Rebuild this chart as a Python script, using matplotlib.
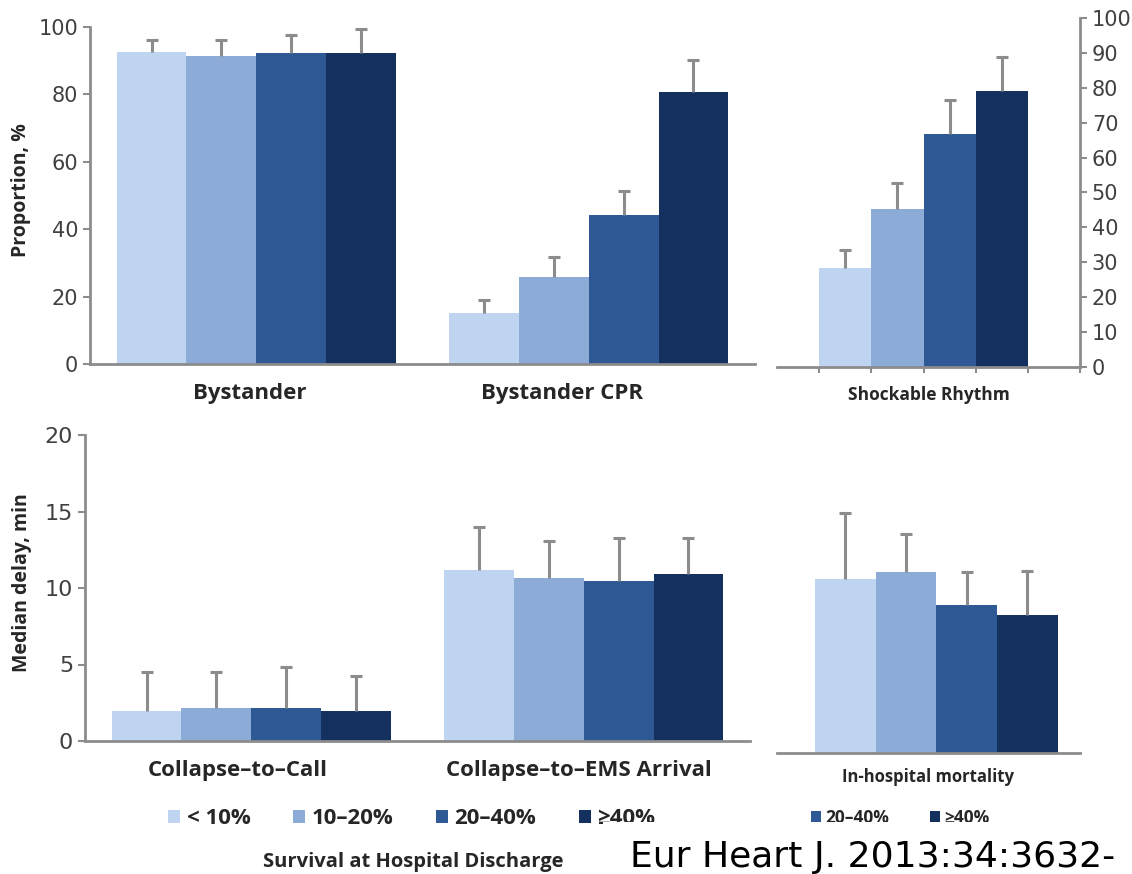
import numpy as np
import matplotlib
matplotlib.use("Agg")
import matplotlib.pyplot as plt
from matplotlib.patches import Patch, Rectangle

# Survival-at-discharge groups and their bar colours
survival_groups = ["< 10%", "10–20%", "20–40%", "≥40%"]
colors = ["#bed4f0", "#8dabd7", "#2e5995", "#14305f"]

# Proportions (%), bar value and upper end of the error bar
top_categories = ["Bystander", "Bystander CPR"]
bystander = [92.6, 91.4, 92.3, 92.3]
bystander_hi = [96.1, 96.0, 97.6, 99.4]
bystander_cpr = [15.1, 25.8, 44.2, 80.7]
bystander_cpr_hi = [19.0, 31.8, 51.4, 90.2]
shockable = [28.4, 45.4, 66.7, 79.0]
shockable_hi = [33.6, 52.6, 76.4, 88.8]

# Median delays (min)
delay_categories = ["Collapse–to–Call", "Collapse–to–EMS Arrival"]
collapse_call = [1.96, 2.15, 2.15, 1.98]
collapse_call_hi = [4.5, 4.5, 4.85, 4.25]
collapse_ems = [11.2, 10.65, 10.46, 10.9]
collapse_ems_hi = [13.97, 13.07, 13.27, 13.27]

# In-hospital mortality (unscaled panel)
mortality = [11.4, 11.8, 9.7, 9.0]
mortality_hi = [15.7, 14.3, 11.8, 11.9]

GREY = "#8c8c8c"
TXT = "#262626"
BOLD = dict(family=["Open Sans", "DejaVu Sans"], weight="bold", color=TXT)
TICKFONT = "DejaVu Sans"

W, H = 1132, 874
fig = plt.figure(figsize=(W / 100, H / 100), dpi=100)


def box(x0, x1, y_base, y_top):
    # pixel box -> figure fraction
    return [x0 / W, 1 - y_base / H, (x1 - x0) / W, (y_base - y_top) / H]


def draw_group(ax, center, width, vals, hi):
    offs = (np.arange(4) - 1.5) * width
    xs = center + offs
    ax.bar(xs, vals, width=width, color=colors, linewidth=0, zorder=2)
    err = np.array(hi) - np.array(vals)
    _, caps, _ = ax.errorbar(xs, vals, yerr=[np.zeros(4), err], fmt="none",
                             ecolor=GREY, elinewidth=2.2, capsize=4,
                             capthick=2.2, zorder=3)
    caps[0].set_visible(False)  # only the upper whisker gets a cap
    return xs


def style(ax, left=True, right=False):
    for s in ["top", "right", "left", "bottom"]:
        ax.spines[s].set_visible(False)
    ax.spines["bottom"].set_visible(True)
    ax.spines["bottom"].set_color(GREY)
    ax.spines["bottom"].set_linewidth(2)
    for s, on in (("left", left), ("right", right)):
        if on:
            ax.spines[s].set_visible(True)
            ax.spines[s].set_color(GREY)
            ax.spines[s].set_linewidth(2)
    ax.tick_params(axis="y", colors=GREY, length=5, width=1.5,
                   labelcolor="#404040", labelsize=15, left=left, right=right,
                   labelleft=left, labelright=right)
    for lab in ax.get_yticklabels():
        lab.set_family(TICKFONT)
    ax.set_facecolor("none")


# Top left: bystander and bystander CPR
ax1 = fig.add_axes(box(90, 755, 364, 27))
draw_group(ax1, 0, 0.21, bystander, bystander_hi)
draw_group(ax1, 1, 0.21, bystander_cpr, bystander_cpr_hi)
ax1.set_xlim(-0.5, 1.5)
ax1.set_ylim(0, 100)
ax1.set_yticks(range(0, 101, 20))
style(ax1)
ax1.set_xticks([-0.02, 0.92])
ax1.set_xticklabels(top_categories, fontsize=16, **BOLD)
ax1.tick_params(axis="x", length=0, pad=14)
ax1.set_ylabel("Proportion, %", fontsize=14, **BOLD)
ax1.yaxis.set_label_coords(-0.088, 0.516)

# Top right: shockable rhythm
ax2 = fig.add_axes(box(777, 1080, 367, 18))
xs = draw_group(ax2, 0.4835, 0.172, shockable, shockable_hi)
ax2.set_xlim(0, 1)
ax2.set_ylim(0, 100)
ax2.set_yticks(range(0, 101, 10))
style(ax2, left=False, right=True)
edges = list(xs - 0.086) + [xs[-1] + 0.086, 1.0]
ax2.set_xticks(edges)
ax2.set_xticklabels([])
ax2.tick_params(axis="x", colors=GREY, length=4, width=1.5, direction="out")
ax2.set_xlabel("Shockable Rhythm", fontsize=12.5, labelpad=6, **BOLD)

# Bottom left: delays
ax3 = fig.add_axes(box(85, 750, 741, 435))
draw_group(ax3, 0, 0.21, collapse_call, collapse_call_hi)
draw_group(ax3, 1, 0.21, collapse_ems, collapse_ems_hi)
ax3.set_xlim(-0.5, 1.5)
ax3.set_ylim(0, 20)
ax3.set_yticks(range(0, 21, 5))
style(ax3)
ax3.tick_params(axis="y", labelsize=16)
ax3.set_xticks([-0.04, 0.985])
ax3.set_xticklabels(delay_categories, fontsize=16, **BOLD)
ax3.tick_params(axis="x", length=0, pad=14)
ax3.set_ylabel("Median delay, min", fontsize=14, **BOLD)
ax3.yaxis.set_label_coords(-0.08, 0.516)

# Bottom right: in-hospital mortality
ax4 = fig.add_axes(box(777, 1080, 753, 447))
draw_group(ax4, 0.526, 0.2, mortality, mortality_hi)
ax4.set_xlim(0, 1)
ax4.set_ylim(0, 20)
style(ax4, left=False)
ax4.set_yticks([])
ax4.set_xticks([0.50])
ax4.set_xticklabels(["In-hospital mortality"], fontsize=12, **BOLD)
ax4.tick_params(axis="x", length=0, pad=11)

# Legends
leg_font = dict(family=["Open Sans", "DejaVu Sans"], weight="bold", size=16)
handles = [Patch(facecolor=c, edgecolor="none") for c in colors]
leg = fig.legend(handles, survival_groups, loc="center left",
                 bbox_to_anchor=(168 / W, 1 - 819 / H), ncol=4, frameon=False,
                 prop=leg_font, handlelength=0.55, handleheight=0.55,
                 handletextpad=0.3, columnspacing=1.9, borderpad=0,
                 borderaxespad=0)
for t in leg.get_texts():
    t.set_color(TXT)

small_font = dict(family=["Open Sans", "DejaVu Sans"], weight="bold", size=12.5)
leg2 = fig.legend(handles[2:], survival_groups[2:], loc="center left",
                  bbox_to_anchor=(811 / W, 1 - 818 / H), ncol=2, frameon=False,
                  prop=small_font, handlelength=0.6, handleheight=0.6,
                  handletextpad=0.25, columnspacing=2.3, borderpad=0,
                  borderaxespad=0)
for t in leg2.get_texts():
    t.set_color(TXT)

fig.text(413 / W, 1 - 862 / H, "Survival at Hospital Discharge", ha="center",
         va="center", fontsize=14.5, **BOLD)

# citation strip
fig.patches.append(Rectangle((603 / W, 0), 1 - 603 / W, 1 - 822 / H,
                             transform=fig.transFigure, facecolor="white",
                             edgecolor="none", zorder=10))
fig.text(630 / W, 1 - 867 / H, "Eur Heart J. 2013:34:3632-", fontsize=26,
         family="DejaVu Sans", color="black", va="baseline", zorder=11)

fig.savefig("out.png", dpi=100, facecolor="white")
